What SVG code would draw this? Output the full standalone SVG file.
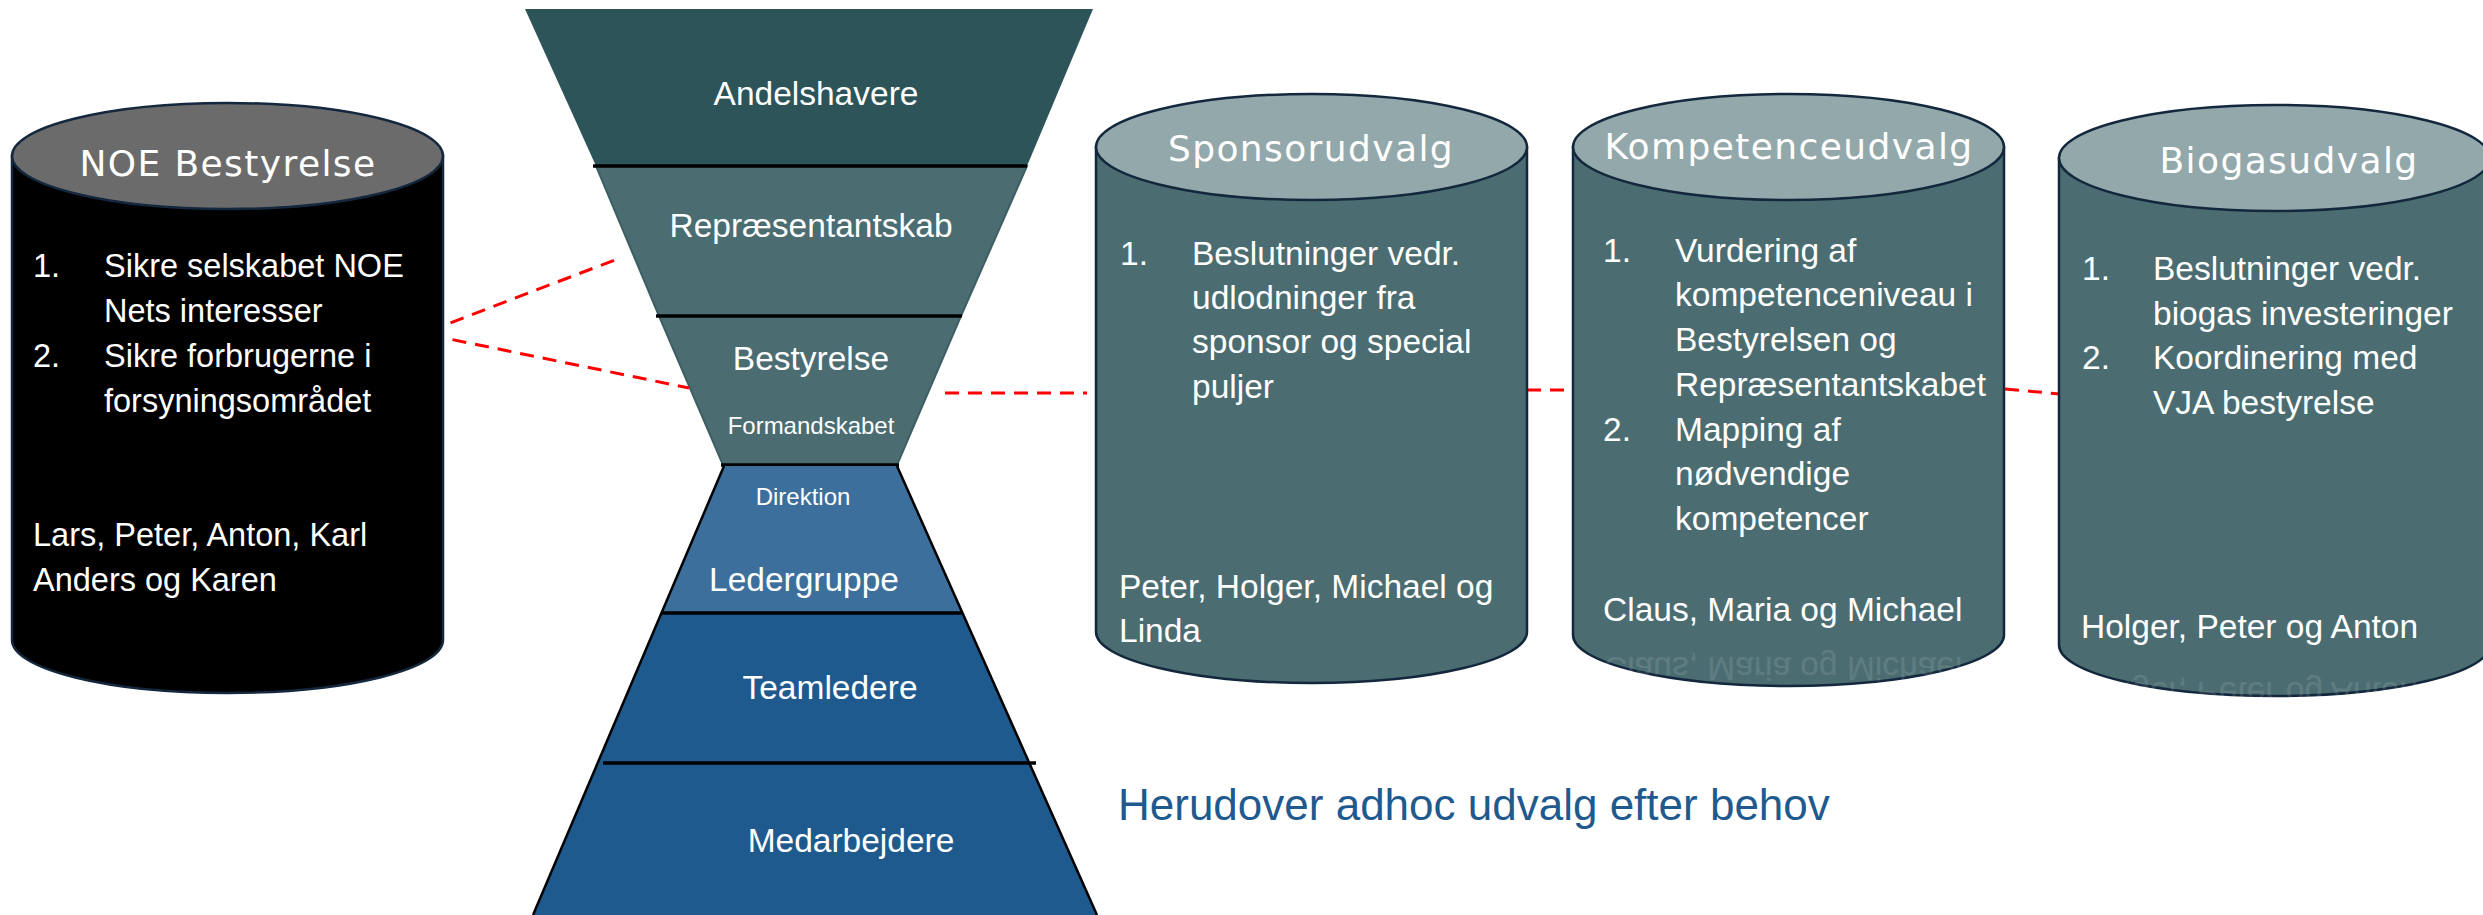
<svg xmlns="http://www.w3.org/2000/svg" width="2483" height="915" viewBox="0 0 2483 915">
<style>
.t{font-family:"Liberation Sans",Arial,sans-serif;fill:#ffffff}
.ttl{font-family:"DejaVu Sans",Verdana,sans-serif;font-size:36px;fill:#ffffff;letter-spacing:1.4px;text-anchor:middle}
.b{font-size:33.5px}
.f{font-size:33.5px;text-anchor:middle}
.cyl{stroke:#13283d;stroke-width:2.5}
.sep{stroke:#000;stroke-width:3.5}
.con{stroke:#ff0000;stroke-width:3;stroke-dasharray:14 9;fill:none}
.refl{opacity:0.11}
</style>
<rect width="2483" height="915" fill="#ffffff"/>

<g id="funnel-upper">
  <polygon points="525,9 1093,9 1027,166 596,166" fill="#2d5459"/>
  <polygon points="596,166 1027,166 961,316 659,316" fill="#4b6c71" stroke="#3d5f64" stroke-width="2"/>
  <polygon points="659,316 961,316 897,465 723,465" fill="#4b6c71" stroke="#3d5f64" stroke-width="2"/>
  <line class="sep" x1="593" y1="166" x2="1027" y2="166"/>
  <line class="sep" x1="656" y1="316" x2="962" y2="316"/>
  <line class="sep" x1="721" y1="465" x2="899" y2="465"/>
  <text class="t f" x="816" y="105">Andelshavere</text>
  <text class="t f" x="811" y="237">Repræsentantskab</text>
  <text class="t f" x="811" y="370">Bestyrelse</text>
  <text class="t" x="811" y="434" font-size="24" text-anchor="middle">Formandskabet</text>
</g>

<g id="funnel-lower">
  <polygon points="724,466 897,466 962,613 662,613" fill="#3d6f9d"/>
  <polygon points="662,613 962,613 1029,763 598,763" fill="#1f5a8f"/>
  <polygon points="598,763 1029,763 1097,915 533,915" fill="#1f5a8f"/>
  <line x1="724" y1="466" x2="533" y2="915" stroke="#000" stroke-width="2.5"/>
  <line x1="897" y1="466" x2="1097" y2="915" stroke="#000" stroke-width="2.5"/>
  <line class="sep" x1="662" y1="613" x2="963" y2="613"/>
  <line class="sep" x1="603" y1="763" x2="1036" y2="763"/>
  <text class="t" x="803" y="505" font-size="24" text-anchor="middle">Direktion</text>
  <text class="t f" x="804" y="591">Ledergruppe</text>
  <text class="t f" x="830" y="699">Teamledere</text>
  <text class="t f" x="851" y="852">Medarbejdere</text>
</g>

<g id="connectors">
  <line class="con" x1="429" y1="331" x2="620" y2="258"/>
  <line class="con" x1="430" y1="335" x2="689" y2="388"/>
  <line class="con" x1="945" y1="393" x2="1087" y2="393"/>
  <line class="con" x1="1527" y1="390" x2="1575" y2="390"/>
  <line class="con" x1="2005" y1="389" x2="2060" y2="394"/>
</g>

<g id="noe-bestyrelse">
  <path class="cyl" d="M12,156 L12,640 A215.5,53 0 0 0 443,640 L443,156 Z" fill="#000000"/>
  <ellipse class="cyl" cx="227.5" cy="156" rx="215.5" ry="53" fill="#6b6b6b"/>
  <text class="ttl" x="228" y="176">NOE Bestyrelse</text>
  <g class="t" font-size="32.5">
    <text x="33" y="277">1.</text><text x="104" y="277">Sikre selskabet NOE</text>
    <text x="104" y="322">Nets interesser</text>
    <text x="33" y="367">2.</text><text x="104" y="367">Sikre forbrugerne i</text>
    <text x="104" y="412">forsyningsområdet</text>
    <text x="33" y="546">Lars, Peter, Anton, Karl</text>
    <text x="33" y="591">Anders og Karen</text>
  </g>
</g>

<g id="sponsorudvalg">
  <path class="cyl" d="M1096,147 L1096,632 A215.5,51 0 0 0 1527,632 L1527,147 Z" fill="#4b6d71"/>
  <ellipse class="cyl" cx="1311.5" cy="147" rx="215.5" ry="53" fill="#93a8aa"/>
  <text class="ttl" x="1311" y="161">Sponsorudvalg</text>
  <g class="t b">
    <text x="1120" y="265">1.</text><text x="1192" y="265">Beslutninger vedr.</text>
    <text x="1192" y="309">udlodninger fra</text>
    <text x="1192" y="353">sponsor og special</text>
    <text x="1192" y="398">puljer</text>
    <text x="1119" y="598">Peter, Holger, Michael og</text>
    <text x="1119" y="642">Linda</text>
  </g>
</g>

<g id="kompetenceudvalg">
  <path class="cyl" d="M1573,147 L1573,635 A215.5,51 0 0 0 2004,635 L2004,147 Z" fill="#4b6d71"/>
  <ellipse class="cyl" cx="1788.5" cy="147" rx="215.5" ry="53" fill="#93a8aa"/>
  <text class="ttl" x="1789" y="159">Kompetenceudvalg</text>
  <g class="t b">
    <text x="1603" y="262">1.</text><text x="1675" y="262">Vurdering af</text>
    <text x="1675" y="306">kompetenceniveau i</text>
    <text x="1675" y="351">Bestyrelsen og</text>
    <text x="1675" y="396">Repræsentantskabet</text>
    <text x="1603" y="441">2.</text><text x="1675" y="441">Mapping af</text>
    <text x="1675" y="485">nødvendige</text>
    <text x="1675" y="530">kompetencer</text>
    <text x="1603" y="621">Claus, Maria og Michael</text>
    <text class="refl" x="1603" y="621" transform="translate(0,1278) scale(1,-1)">Claus, Maria og Michael</text>
  </g>
</g>

<g id="biogasudvalg">
  <path class="cyl" d="M2059,158 L2059,645 A215.5,51 0 0 0 2490,645 L2490,158 Z" fill="#4b6d71"/>
  <ellipse class="cyl" cx="2274.5" cy="158" rx="215.5" ry="53" fill="#93a8aa"/>
  <text class="ttl" x="2289" y="173">Biogasudvalg</text>
  <g class="t b">
    <text x="2082" y="280">1.</text><text x="2153" y="280">Beslutninger vedr.</text>
    <text x="2153" y="325">biogas investeringer</text>
    <text x="2082" y="369">2.</text><text x="2153" y="369">Koordinering med</text>
    <text x="2153" y="414">VJA bestyrelse</text>
    <text x="2081" y="638">Holger, Peter og Anton</text>
    <text class="refl" x="2081" y="638" transform="translate(0,1320) scale(1,-1)">Holger, Peter og Anton</text>
  </g>
</g>

<g id="note">
  <text x="1118" y="820" font-family="Liberation Sans, Arial, sans-serif" font-size="44" fill="#1f5a8f">Herudover adhoc udvalg efter behov</text>
</g>
</svg>
